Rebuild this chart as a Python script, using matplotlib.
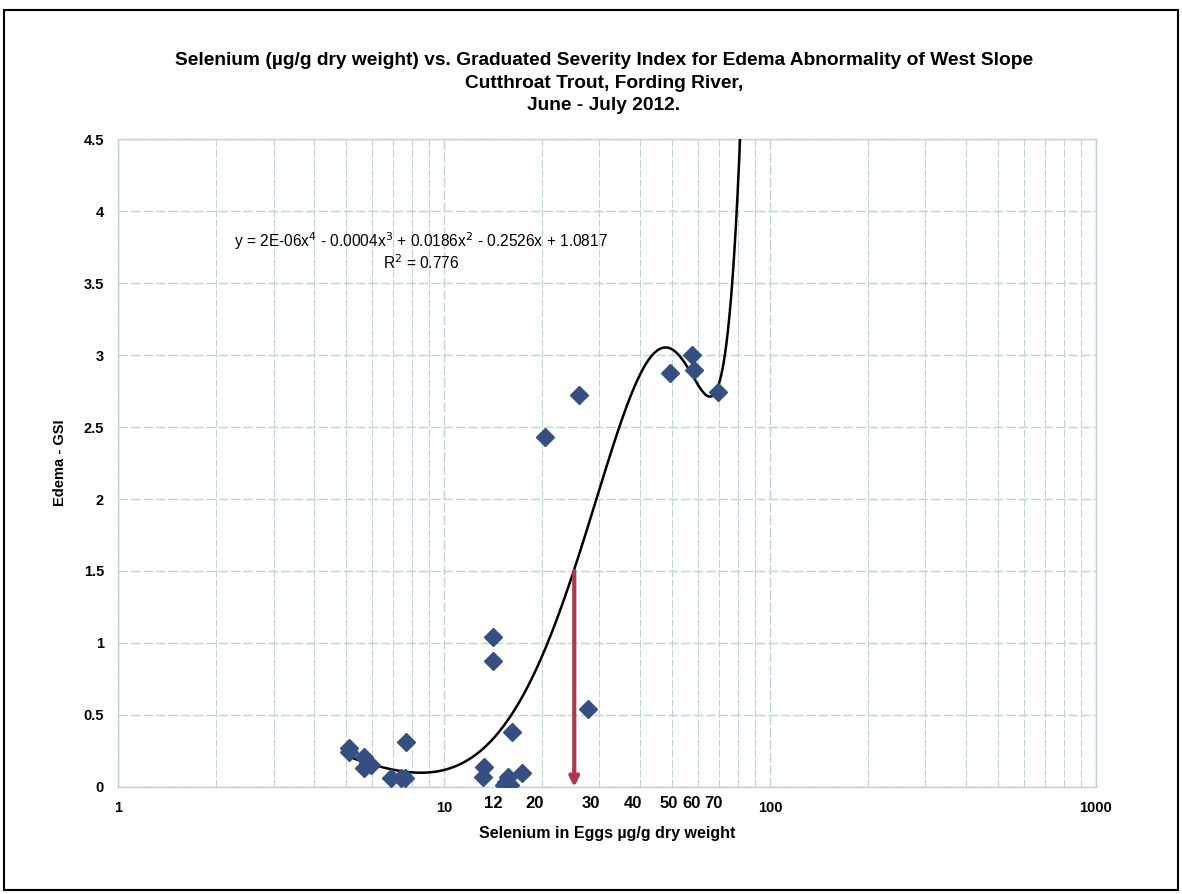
import numpy as np
import matplotlib
matplotlib.use("Agg")
import matplotlib.pyplot as plt
from matplotlib.ticker import FixedLocator, NullFormatter

plt.rcParams['font.family'] = ['Liberation Sans', 'DejaVu Sans']

# selenio en huevos (ug/g peso seco) y severidad del edema
se_huevo = [5.12, 5.12, 5.69, 5.83, 5.69, 5.97, 6.88, 7.38, 7.58, 7.64,
            14.1, 14.1, 13.3, 13.2, 16.2, 15.7, 15.5, 15.3, 15.9, 17.4,
            27.6, 20.4, 26.0, 49.4, 57.5, 58.6, 69.4]
edema_gsi = [0.27, 0.245, 0.21, 0.165, 0.13, 0.153, 0.065, 0.06, 0.06, 0.31,
             1.044, 0.877, 0.137, 0.067, 0.38, 0.072, 0.037, 0.014, 0.014, 0.10,
             0.54, 2.43, 2.72, 2.877, 3.0, 2.896, 2.74]

# etiquetas agregadas a mano bajo el eje
etiquetas_x = ['12', '20', '30', '40', '50', '60', '70']
pos_etiquetas = [14.2, 18.9, 28.2, 38.1, 49.0, 57.5, 67.3]

# linea de referencia EC (GSI = 1.5)
x_ref = 25.1
gsi_ref = 1.5

ecuacion = "y = 2E-06x$^4$ - 0.0004x$^3$ + 0.0186x$^2$ - 0.2526x + 1.0817"
r2_txt = "R$^2$ = 0.776"

x = np.array(se_huevo)
y = np.array(edema_gsi)

# tendencia polinomica de orden 4 (como la de Excel)
coef = np.polyfit(x, y, 4)
xs = np.linspace(x.min(), 90, 800)
ys = np.polyval(coef, xs)

fig = plt.figure(figsize=(11.82, 8.94), dpi=100)
ax = fig.add_axes([0.0998, 0.1197, 0.8274, 0.7248])

grid_col = '#BDD2D9'
ax.set_xscale('log')
ax.set_xlim(1, 1000)
ax.set_ylim(0, 4.5)
ax.set_yticks(np.arange(0, 4.51, 0.5))
ax.set_yticklabels(['0', '0.5', '1', '1.5', '2', '2.5', '3', '3.5', '4', '4.5'])
ax.xaxis.set_major_locator(FixedLocator([1, 10, 100, 1000]))
ax.xaxis.set_minor_locator(FixedLocator([m * d for d in (1, 10, 100) for m in range(2, 10)]))
ax.xaxis.set_minor_formatter(NullFormatter())
ax.set_xticklabels(['1', '10', '100', '1000'])
ax.tick_params(axis='both', which='both', length=0, labelsize=10.5, pad=10)
ax.tick_params(axis='y', pad=10)
for t in ax.get_xticklabels() + ax.get_yticklabels():
    t.set_fontweight('bold')

ax.grid(True, which='minor', axis='x', color=grid_col, lw=0.8, ls=(0, (7, 2)))
ax.grid(True, which='major', axis='both', color=grid_col, lw=1.0, ls=(0, (7, 2)))
for s in ax.spines.values():
    s.set_color(grid_col)
    s.set_linewidth(1.0)
ax.set_axisbelow(True)

ax.plot(xs, ys, color='black', lw=1.8, zorder=3)
ax.plot(x, y, ls='none', marker='D', markersize=9, color='#344F80',
        markeredgecolor='#344F80', zorder=4)

ax.annotate('', xy=(x_ref, 0.0), xytext=(x_ref, gsi_ref),
            arrowprops=dict(arrowstyle='-|>', color='#B2374C', lw=3,
                            mutation_scale=14, shrinkA=0, shrinkB=0), zorder=5)

for lab, px in zip(etiquetas_x, pos_etiquetas):
    ax.text(px, -0.115, lab, ha='center', va='center', fontsize=12,
            fontweight='bold')

ax.text(0.31, 0.8426, ecuacion, transform=ax.transAxes, ha='center',
        va='center', fontsize=11.2)
ax.text(0.31, 0.8086, r2_txt, transform=ax.transAxes, ha='center',
        va='center', fontsize=11.2)

ax.set_xlabel('Selenium in Eggs µg/g dry weight', fontsize=11.5, fontweight='bold',
              labelpad=8)
ax.set_ylabel('Edema - GSI', fontsize=10.5, fontweight='bold', labelpad=12)

fig.text(0.511, 0.907, 'Selenium (µg/g dry weight) vs. Graduated Severity Index for Edema Abnormality of West Slope\n'
         'Cutthroat Trout, Fording River,\nJune - July 2012.',
         ha='center', va='center', fontsize=13.8, fontweight='bold', linespacing=1.45)

# marco de la pagina
fig.patches.append(plt.Rectangle((0.003, 0.005), 0.994, 0.984, transform=fig.transFigure,
                                 fill=False, edgecolor='black', lw=1.5))

fig.savefig('out.png', dpi=100)
